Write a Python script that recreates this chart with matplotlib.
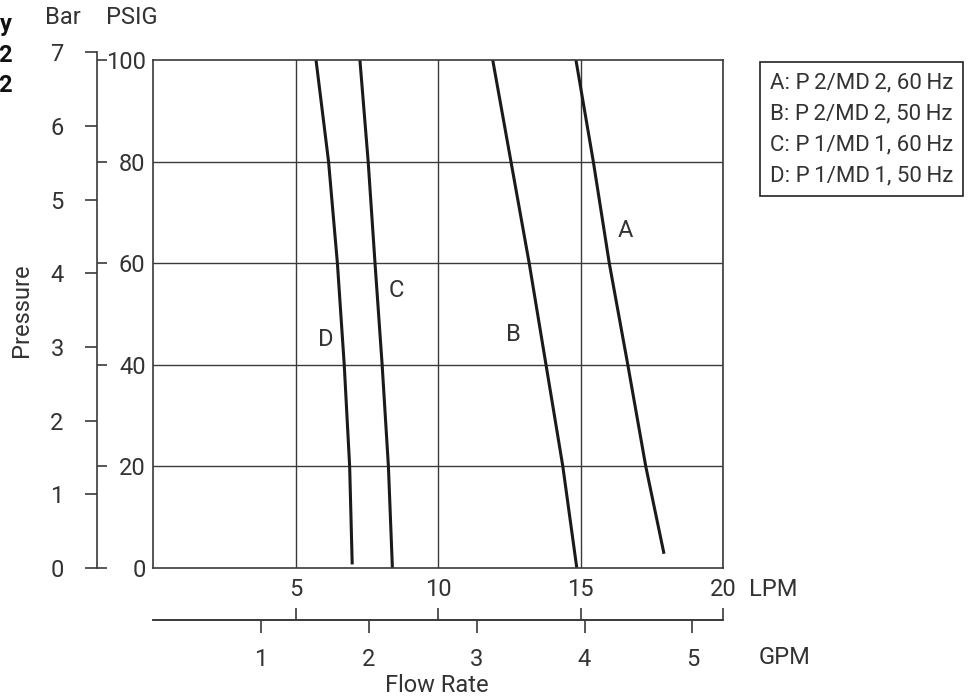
import matplotlib
matplotlib.use("Agg")
import matplotlib.pyplot as plt
from matplotlib.lines import Line2D

plt.rcParams['font.family'] = ['Roboto', 'DejaVu Sans']
plt.rcParams['font.size'] = 17
plt.rcParams['text.color'] = '#333333'
plt.rcParams['xtick.color'] = '#333333'
plt.rcParams['ytick.color'] = '#333333'
plt.rcParams['xtick.labelcolor'] = '#333333'
plt.rcParams['ytick.labelcolor'] = '#333333'

# data (flow in LPM, pressure in PSIG)
psig_a = [100, 80, 60, 40, 20, 2.8]
lpm_a = [14.84, 15.45, 16.01, 16.66, 17.29, 17.93]
psig_b = [100, 80, 60, 40, 20, 0]
lpm_b = [11.92, 12.56, 13.20, 13.79, 14.38, 14.87]
psig_c = [100, 80, 60, 40, 20, 0]
lpm_c = [7.26, 7.55, 7.79, 8.04, 8.26, 8.40]
psig_d = [100, 80, 60, 40, 20, 0.7]
lpm_d = [5.72, 6.16, 6.47, 6.71, 6.90, 6.99]

curve_names = ["A", "B", "C", "D"]
name_pos = [(16.59, 66.5), (12.64, 46.0), (8.53, 54.7), (6.06, 44.9)]
legend_labels = ["A: P\u20092/MD\u20092, 60\u2009Hz", "B: P\u20092/MD\u20092, 50\u2009Hz",
                 "C: P\u20091/MD\u20091, 60\u2009Hz", "D: P\u20091/MD\u20091, 50\u2009Hz"]

lpm_ticks = [5, 10, 15, 20]
gpm_ticks = [1, 2, 3, 4, 5]
psig_ticks = [0, 20, 40, 60, 80, 100]
bar_ticks = [0, 1, 2, 3, 4, 5, 6, 7]

PSI_PER_BAR = 14.5038
L_PER_GAL = 3.78541

W, H = 973, 698
fig = plt.figure(figsize=(W / 100, H / 100), dpi=100)

gridc = '#3a3a3a'
linec = '#1a1a1a'

# main plot area
ax = fig.add_axes([153 / W, 130 / H, 570 / W, 508 / H])
ax.set_xlim(0, 20)
ax.set_ylim(0, 100)
ax.set_xticks(lpm_ticks)
ax.set_yticks([20, 40, 60, 80])
ax.tick_params(axis='x', length=0, pad=7)
ax.tick_params(axis='y', length=0, labelleft=False)
ax.grid(True, color=gridc, linewidth=1.0)
for s in ax.spines.values():
    s.set_color(gridc)
    s.set_linewidth(1.2)

for x, y in [(lpm_a, psig_a), (lpm_b, psig_b), (lpm_c, psig_c), (lpm_d, psig_d)]:
    ax.plot(x, y, color=linec, linewidth=2.2, solid_capstyle='butt', solid_joinstyle='round')
for n, (x, y) in zip(curve_names, name_pos):
    ax.text(x, y, n, ha='center', va='center')

# PSIG axis
top = 7 * PSI_PER_BAR
ax_p = fig.add_axes([97 / W, 130 / H, 56 / W, 508 * top / 100 / H])
ax_p.patch.set_visible(False)
ax_p.set_ylim(0, top)
ax_p.set_xticks([])
for k in ['top', 'right', 'bottom']:
    ax_p.spines[k].set_visible(False)
ax_p.spines['left'].set_color(gridc)
ax_p.spines['left'].set_linewidth(1.2)
ax_p.set_yticks(psig_ticks)
ax_p.tick_params(axis='y', direction='in', length=7, width=1.2, pad=-35, color=gridc)

# Bar axis, same spine, ticks outward
ax_b = ax_p.twinx()
ax_b.set_ylim(0, 7)
ax_b.yaxis.tick_left()
for s in ax_b.spines.values():
    s.set_visible(False)
ax_b.set_yticks(bar_ticks)
ax_b.tick_params(axis='y', direction='out', length=9, width=1.2, pad=15, color=gridc)

# flow scale line below: LPM ticks up, GPM ticks down
loc = (568 - 620) / 508
sec_g = ax.secondary_xaxis(loc, functions=(lambda v: v / L_PER_GAL, lambda v: v * L_PER_GAL))
sec_g.set_xticks(gpm_ticks)
sec_g.tick_params(axis='x', direction='out', length=9, width=1.2, pad=11, color=gridc)
sec_g.spines['bottom'].set_color(gridc)
sec_g.spines['bottom'].set_linewidth(1.2)

sec_l = ax.secondary_xaxis(loc)
sec_l.set_xticks(lpm_ticks)
sec_l.tick_params(axis='x', direction='in', length=9, width=1.2, labelbottom=False, color=gridc)
sec_l.spines['bottom'].set_color(gridc)
sec_l.spines['bottom'].set_linewidth(1.2)

# axis titles
fig.text(63 / W, 1 - 17 / H, "Bar", ha='center', va='center')
fig.text(132 / W, 1 - 17 / H, "PSIG", ha='center', va='center')
fig.text(22 / W, 1 - 310 / H, "Pressure", ha='center', va='center', rotation=90)
fig.text(773 / W, 1 - 590 / H, "LPM", ha='center', va='center')
fig.text(785 / W, 1 - 657 / H, "GPM", ha='center', va='center')
fig.text(437 / W, 1 - 685 / H, "Flow Rate", ha='center', va='center')

# fragments of a caption at the left edge
for t, y in [("y", 25), ("2", 56), ("2", 86)]:
    fig.text(12 / W, 1 - y / H, t, ha='right', va='center', fontweight='bold', color='#111111')

# legend box
handles = [Line2D([], [], linestyle='none') for _ in legend_labels]
leg = fig.legend(handles, legend_labels, loc='upper left', fontsize=16,
                 bbox_to_anchor=(760 / W, 1 - 62 / H), handlelength=0, handletextpad=0,
                 fancybox=False, framealpha=1, edgecolor='#222222', borderpad=0.45,
                 labelspacing=0.45, borderaxespad=0)
leg.get_frame().set_linewidth(1.2)

fig.savefig("out.png", dpi=100)
